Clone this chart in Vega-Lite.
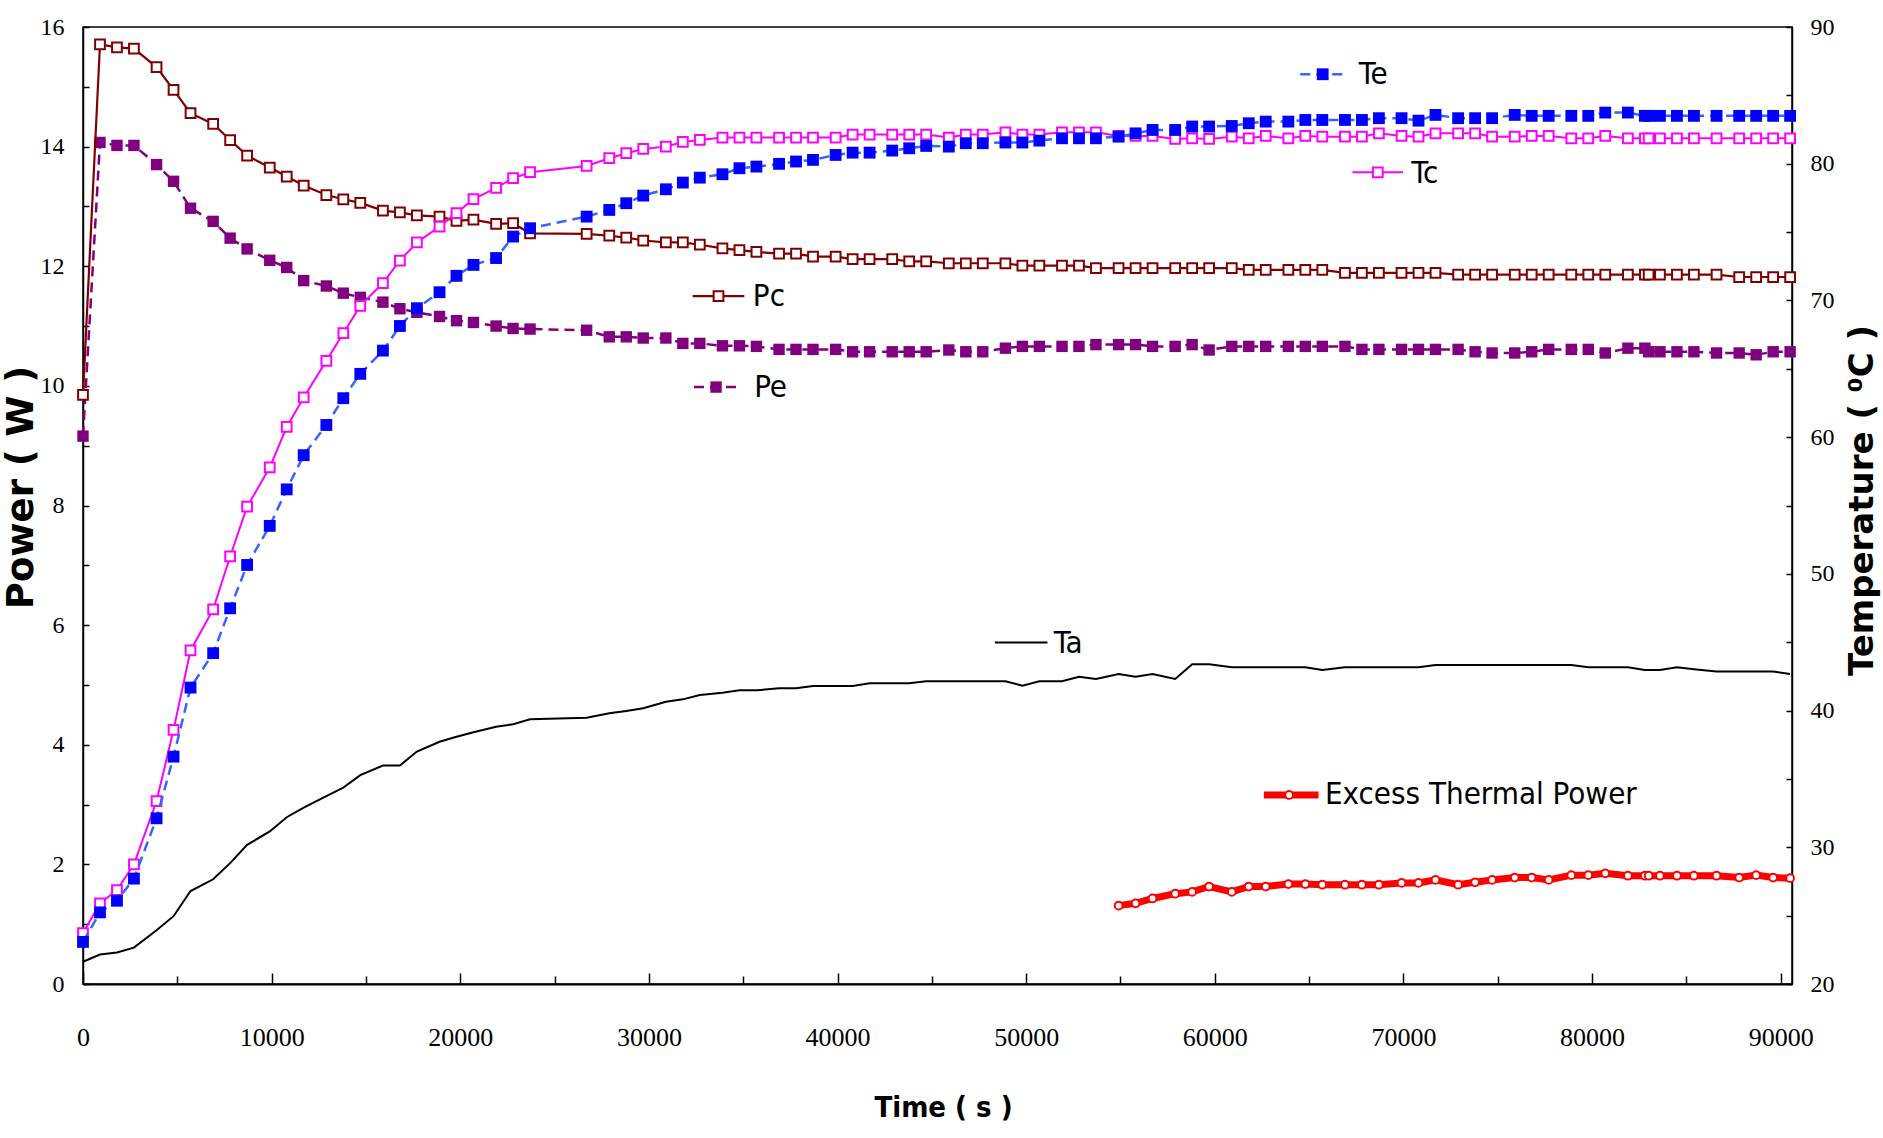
{
  "$schema": "https://vega.github.io/schema/vega-lite/v6.json",
  "width": 1709,
  "height": 957,
  "autosize": {"type": "none"},
  "padding": {"left": 83, "top": 27, "right": 91, "bottom": 154},
  "background": "white",
  "config": {
    "view": {"stroke": "black", "strokeWidth": 1.5},
    "axis": {
      "grid": false,
      "domainColor": "black",
      "domainWidth": 2,
      "tickColor": "black",
      "tickWidth": 1.5,
      "labelColor": "black",
      "titleColor": "black",
      "labelFont": "Liberation Serif",
      "labelFlush": false,
      "labelOverlap": false
    },
    "text": {"font": "Liberation Sans Narrow, DejaVu Sans Condensed, Roboto Condensed, Roboto, sans-serif", "fontSize": 31, "align": "left", "baseline": "middle", "color": "black"}
  },
  "datasets": {
    "runs": [
      {"t": 0, "Pc": 9.85, "Pe": 9.16, "Te": 23.08, "Tc": 23.73, "Ta": 21.63},
      {"t": 900, "Pc": 15.71, "Pe": 14.07, "Te": 25.24, "Tc": 25.89, "Ta": 22.16},
      {"t": 1800, "Pc": 15.66, "Pe": 14.02, "Te": 26.09, "Tc": 26.87, "Ta": 22.3},
      {"t": 2700, "Pc": 15.64, "Pe": 14.02, "Te": 27.71, "Tc": 28.75, "Ta": 22.66},
      {"t": 3900, "Pc": 15.33, "Pe": 13.7, "Te": 32.12, "Tc": 33.38, "Ta": 23.93},
      {"t": 4800, "Pc": 14.95, "Pe": 13.42, "Te": 36.63, "Tc": 38.59, "Ta": 24.96},
      {"t": 5700, "Pc": 14.56, "Pe": 12.97, "Te": 41.68, "Tc": 44.4, "Ta": 26.8},
      {"t": 6900, "Pc": 14.38, "Pe": 12.75, "Te": 44.2, "Tc": 47.4, "Ta": 27.66},
      {"t": 7800, "Pc": 14.11, "Pe": 12.47, "Te": 47.48, "Tc": 51.27, "Ta": 28.84},
      {"t": 8700, "Pc": 13.85, "Pe": 12.29, "Te": 50.65, "Tc": 54.92, "Ta": 30.18},
      {"t": 9900, "Pc": 13.65, "Pe": 12.1, "Te": 53.51, "Tc": 57.78, "Ta": 31.16},
      {"t": 10800, "Pc": 13.5, "Pe": 11.98, "Te": 56.18, "Tc": 60.75, "Ta": 32.2},
      {"t": 11700, "Pc": 13.35, "Pe": 11.76, "Te": 58.68, "Tc": 62.9, "Ta": 32.9},
      {"t": 12900, "Pc": 13.19, "Pe": 11.67, "Te": 60.89, "Tc": 65.58, "Ta": 33.74},
      {"t": 13800, "Pc": 13.12, "Pe": 11.55, "Te": 62.85, "Tc": 67.6, "Ta": 34.36},
      {"t": 14700, "Pc": 13.06, "Pe": 11.48, "Te": 64.63, "Tc": 69.6, "Ta": 35.28},
      {"t": 15900, "Pc": 12.93, "Pe": 11.4, "Te": 66.33, "Tc": 71.27, "Ta": 35.98},
      {"t": 16800, "Pc": 12.9, "Pe": 11.29, "Te": 68.13, "Tc": 72.92, "Ta": 35.98},
      {"t": 17700, "Pc": 12.85, "Pe": 11.23, "Te": 69.43, "Tc": 74.24, "Ta": 37.0},
      {"t": 18900, "Pc": 12.83, "Pe": 11.16, "Te": 70.6, "Tc": 75.4, "Ta": 37.72},
      {"t": 19800, "Pc": 12.76, "Pe": 11.09, "Te": 71.8, "Tc": 76.39, "Ta": 38.08},
      {"t": 20700, "Pc": 12.78, "Pe": 11.06, "Te": 72.6, "Tc": 77.41, "Ta": 38.42},
      {"t": 21900, "Pc": 12.71, "Pe": 11.0, "Te": 73.1, "Tc": 78.24, "Ta": 38.82},
      {"t": 22800, "Pc": 12.72, "Pe": 10.96, "Te": 74.67, "Tc": 78.94, "Ta": 39.0},
      {"t": 23700, "Pc": 12.55, "Pe": 10.95, "Te": 75.28, "Tc": 79.38, "Ta": 39.36},
      {"t": 26700, "Pc": 12.54, "Pe": 10.93, "Te": 76.13, "Tc": 79.84, "Ta": 39.48},
      {"t": 27900, "Pc": 12.51, "Pe": 10.82, "Te": 76.62, "Tc": 80.4, "Ta": 39.8},
      {"t": 28800, "Pc": 12.48, "Pe": 10.82, "Te": 77.11, "Tc": 80.77, "Ta": 39.97},
      {"t": 29700, "Pc": 12.43, "Pe": 10.8, "Te": 77.67, "Tc": 81.08, "Ta": 40.17},
      {"t": 30900, "Pc": 12.4, "Pe": 10.8, "Te": 78.13, "Tc": 81.25, "Ta": 40.65},
      {"t": 31800, "Pc": 12.4, "Pe": 10.71, "Te": 78.62, "Tc": 81.59, "Ta": 40.82},
      {"t": 32700, "Pc": 12.36, "Pe": 10.71, "Te": 78.98, "Tc": 81.74, "Ta": 41.14},
      {"t": 33900, "Pc": 12.3, "Pe": 10.67, "Te": 79.23, "Tc": 81.91, "Ta": 41.31},
      {"t": 34800, "Pc": 12.27, "Pe": 10.67, "Te": 79.67, "Tc": 81.91, "Ta": 41.48},
      {"t": 35700, "Pc": 12.24, "Pe": 10.66, "Te": 79.79, "Tc": 81.91, "Ta": 41.48},
      {"t": 36900, "Pc": 12.21, "Pe": 10.61, "Te": 79.99, "Tc": 81.91, "Ta": 41.63},
      {"t": 37800, "Pc": 12.21, "Pe": 10.61, "Te": 80.16, "Tc": 81.91, "Ta": 41.63},
      {"t": 38700, "Pc": 12.16, "Pe": 10.61, "Te": 80.28, "Tc": 81.91, "Ta": 41.8},
      {"t": 39900, "Pc": 12.16, "Pe": 10.61, "Te": 80.64, "Tc": 81.91, "Ta": 41.8},
      {"t": 40800, "Pc": 12.12, "Pe": 10.57, "Te": 80.81, "Tc": 82.13, "Ta": 41.8},
      {"t": 41700, "Pc": 12.12, "Pe": 10.57, "Te": 80.81, "Tc": 82.13, "Ta": 42.0},
      {"t": 42900, "Pc": 12.12, "Pe": 10.57, "Te": 80.96, "Tc": 82.13, "Ta": 42.0},
      {"t": 43800, "Pc": 12.08, "Pe": 10.57, "Te": 81.13, "Tc": 82.13, "Ta": 42.0},
      {"t": 44700, "Pc": 12.08, "Pe": 10.57, "Te": 81.3, "Tc": 82.13, "Ta": 42.14},
      {"t": 45900, "Pc": 12.05, "Pe": 10.6, "Te": 81.25, "Tc": 81.91, "Ta": 42.14},
      {"t": 46800, "Pc": 12.05, "Pe": 10.57, "Te": 81.5, "Tc": 82.13, "Ta": 42.14},
      {"t": 47700, "Pc": 12.05, "Pe": 10.57, "Te": 81.5, "Tc": 82.13, "Ta": 42.14},
      {"t": 48900, "Pc": 12.05, "Pe": 10.63, "Te": 81.55, "Tc": 82.3, "Ta": 42.14},
      {"t": 49800, "Pc": 12.01, "Pe": 10.66, "Te": 81.55, "Tc": 82.13, "Ta": 41.82},
      {"t": 50700, "Pc": 12.01, "Pe": 10.66, "Te": 81.69, "Tc": 82.13, "Ta": 42.14},
      {"t": 51900, "Pc": 12.01, "Pe": 10.66, "Te": 81.86, "Tc": 82.3, "Ta": 42.14},
      {"t": 52800, "Pc": 12.01, "Pe": 10.66, "Te": 81.86, "Tc": 82.3, "Ta": 42.48},
      {"t": 53700, "Pc": 11.97, "Pe": 10.69, "Te": 81.86, "Tc": 82.3, "Ta": 42.31},
      {"t": 54900, "Pc": 11.97, "Pe": 10.69, "Te": 81.98, "Tc": 82.03, "Ta": 42.68, "Ex": 1.31},
      {"t": 55800, "Pc": 11.97, "Pe": 10.69, "Te": 82.22, "Tc": 82.03, "Ta": 42.48, "Ex": 1.35},
      {"t": 56700, "Pc": 11.97, "Pe": 10.66, "Te": 82.47, "Tc": 82.03, "Ta": 42.68, "Ex": 1.43},
      {"t": 57900, "Pc": 11.97, "Pe": 10.66, "Te": 82.47, "Tc": 81.81, "Ta": 42.31, "Ex": 1.51},
      {"t": 58800, "Pc": 11.97, "Pe": 10.69, "Te": 82.72, "Tc": 81.86, "Ta": 43.39, "Ex": 1.54},
      {"t": 59700, "Pc": 11.97, "Pe": 10.6, "Te": 82.72, "Tc": 81.81, "Ta": 43.39, "Ex": 1.63},
      {"t": 60900, "Pc": 11.97, "Pe": 10.66, "Te": 82.76, "Tc": 81.98, "Ta": 43.17, "Ex": 1.54},
      {"t": 61800, "Pc": 11.94, "Pe": 10.66, "Te": 82.96, "Tc": 81.86, "Ta": 43.17, "Ex": 1.63},
      {"t": 62700, "Pc": 11.94, "Pe": 10.66, "Te": 83.08, "Tc": 82.03, "Ta": 43.17, "Ex": 1.63},
      {"t": 63900, "Pc": 11.94, "Pe": 10.66, "Te": 83.08, "Tc": 81.86, "Ta": 43.17, "Ex": 1.67},
      {"t": 64800, "Pc": 11.94, "Pe": 10.66, "Te": 83.2, "Tc": 82.03, "Ta": 43.17, "Ex": 1.67},
      {"t": 65700, "Pc": 11.94, "Pe": 10.66, "Te": 83.2, "Tc": 81.98, "Ta": 42.97, "Ex": 1.66},
      {"t": 66900, "Pc": 11.89, "Pe": 10.66, "Te": 83.2, "Tc": 81.98, "Ta": 43.17, "Ex": 1.66},
      {"t": 67800, "Pc": 11.89, "Pe": 10.61, "Te": 83.2, "Tc": 81.98, "Ta": 43.17, "Ex": 1.66},
      {"t": 68700, "Pc": 11.89, "Pe": 10.61, "Te": 83.33, "Tc": 82.22, "Ta": 43.17, "Ex": 1.66},
      {"t": 69900, "Pc": 11.89, "Pe": 10.61, "Te": 83.33, "Tc": 82.03, "Ta": 43.17, "Ex": 1.69},
      {"t": 70800, "Pc": 11.89, "Pe": 10.61, "Te": 83.15, "Tc": 81.98, "Ta": 43.17, "Ex": 1.69},
      {"t": 71700, "Pc": 11.89, "Pe": 10.61, "Te": 83.57, "Tc": 82.22, "Ta": 43.34, "Ex": 1.74},
      {"t": 72900, "Pc": 11.86, "Pe": 10.61, "Te": 83.33, "Tc": 82.22, "Ta": 43.34, "Ex": 1.66},
      {"t": 73800, "Pc": 11.86, "Pe": 10.57, "Te": 83.33, "Tc": 82.22, "Ta": 43.34, "Ex": 1.7},
      {"t": 74700, "Pc": 11.86, "Pe": 10.55, "Te": 83.33, "Tc": 81.98, "Ta": 43.34, "Ex": 1.74},
      {"t": 75900, "Pc": 11.86, "Pe": 10.55, "Te": 83.57, "Tc": 81.98, "Ta": 43.34, "Ex": 1.78},
      {"t": 76800, "Pc": 11.86, "Pe": 10.57, "Te": 83.5, "Tc": 82.03, "Ta": 43.34, "Ex": 1.78},
      {"t": 77700, "Pc": 11.86, "Pe": 10.61, "Te": 83.5, "Tc": 82.03, "Ta": 43.34, "Ex": 1.74},
      {"t": 78900, "Pc": 11.86, "Pe": 10.61, "Te": 83.5, "Tc": 81.86, "Ta": 43.34, "Ex": 1.82},
      {"t": 79800, "Pc": 11.86, "Pe": 10.61, "Te": 83.5, "Tc": 81.86, "Ta": 43.17, "Ex": 1.82},
      {"t": 80700, "Pc": 11.86, "Pe": 10.55, "Te": 83.74, "Tc": 82.03, "Ta": 43.17, "Ex": 1.85},
      {"t": 81900, "Pc": 11.86, "Pe": 10.63, "Te": 83.74, "Tc": 81.86, "Ta": 43.17, "Ex": 1.81},
      {"t": 82800, "Pc": 11.86, "Pe": 10.63, "Te": 83.5, "Tc": 81.86, "Ta": 42.97, "Ex": 1.81},
      {"t": 83000, "Pc": 11.86, "Pe": 10.57, "Te": 83.5, "Tc": 81.86, "Ta": 42.97, "Ex": 1.81},
      {"t": 83600, "Pc": 11.86, "Pe": 10.57, "Te": 83.5, "Tc": 81.86, "Ta": 42.97, "Ex": 1.81},
      {"t": 84500, "Pc": 11.86, "Pe": 10.57, "Te": 83.5, "Tc": 81.86, "Ta": 43.17, "Ex": 1.81},
      {"t": 85400, "Pc": 11.86, "Pe": 10.57, "Te": 83.5, "Tc": 81.86, "Ta": 43.02, "Ex": 1.81},
      {"t": 86600, "Pc": 11.86, "Pe": 10.55, "Te": 83.5, "Tc": 81.86, "Ta": 42.85, "Ex": 1.81},
      {"t": 87800, "Pc": 11.82, "Pe": 10.55, "Te": 83.5, "Tc": 81.86, "Ta": 42.85, "Ex": 1.78},
      {"t": 88700, "Pc": 11.82, "Pe": 10.52, "Te": 83.5, "Tc": 81.86, "Ta": 42.85, "Ex": 1.82},
      {"t": 89600, "Pc": 11.82, "Pe": 10.57, "Te": 83.5, "Tc": 81.86, "Ta": 42.85, "Ex": 1.78},
      {"t": 90500, "Pc": 11.82, "Pe": 10.57, "Te": 83.5, "Tc": 81.86, "Ta": 42.68, "Ex": 1.77}
    ]
  },
  "layer": [
    {
      "data": {"name": "runs"},
      "transform": [{"fold": ["Pc", "Pe", "Ex"], "as": ["s", "v"]}, {"filter": "isValid(datum.v)"}],
      "encoding": {
        "x": {
          "field": "t",
          "type": "quantitative",
          "scale": {"domain": [0, 90600], "nice": false, "zero": false},
          "axis": {
            "orient": "bottom",
            "values": [0, 5000, 10000, 15000, 20000, 25000, 30000, 35000, 40000, 45000, 50000, 55000, 60000, 65000, 70000, 75000, 80000, 85000, 90000],
            "format": "d",
            "labelExpr": "datum.value % 10000 === 0 ? datum.label : ''",
            "tickSize": {"condition": {"test": "datum.value % 10000 === 0", "value": -11}, "value": -8},
            "labelPadding": 51,
            "labelFontSize": 26,
            "title": "Time ( s )",
            "titleFont": "Liberation Sans Narrow, DejaVu Sans Condensed, Roboto Condensed, Roboto, sans-serif",
            "titleFontSize": 29,
            "titleFontWeight": "bold",
            "titleAlign": "center",
            "titleBaseline": "middle",
            "titleX": 860,
            "titleY": 123
          }
        },
        "y": {
          "field": "v",
          "type": "quantitative",
          "scale": {"domain": [0, 16], "nice": false, "zero": false},
          "axis": {
            "orient": "left",
            "values": [0, 1, 2, 3, 4, 5, 6, 7, 8, 9, 10, 11, 12, 13, 14, 15, 16],
            "labelExpr": "datum.value % 2 === 0 ? datum.label : ''",
            "tickSize": -6,
            "labelPadding": 25,
            "labelFontSize": 24,
            "domainWidth": 1.5,
            "title": "Power ( W )",
            "titleFont": "DejaVu Sans",
            "titleFontSize": 37,
            "titleFontWeight": "bold",
            "titleAngle": 270,
            "titleAlign": "center",
            "titleBaseline": "middle",
            "titleX": -62,
            "titleY": 460
          }
        }
      },
      "layer": [
        {
          "transform": [{"filter": "datum.s === 'Pe'"}],
          "mark": {"type": "line", "color": "#800080", "strokeWidth": 2.5, "strokeDash": [10, 6]},
          "encoding": {}
        },
        {
          "transform": [{"filter": "datum.s === 'Pe'"}],
          "mark": {"type": "point", "shape": "square", "filled": true, "color": "#800080", "size": 130, "opacity": 1}
        },
        {
          "transform": [{"filter": "datum.s === 'Pc'"}],
          "mark": {"type": "line", "color": "#800000", "strokeWidth": 2.2},
          "encoding": {}
        },
        {
          "transform": [{"filter": "datum.s === 'Pc'"}],
          "mark": {"type": "point", "shape": "square", "filled": true, "fill": "white", "stroke": "#800000", "strokeWidth": 2, "size": 95, "opacity": 1}
        },
        {
          "transform": [{"filter": "datum.s === 'Ex'"}],
          "mark": {"type": "line", "color": "#FF0000", "strokeWidth": 7},
          "encoding": {}
        },
        {
          "transform": [{"filter": "datum.s === 'Ex'"}],
          "mark": {"type": "point", "shape": "circle", "filled": true, "fill": "white", "stroke": "#FF0000", "strokeWidth": 2, "size": 60, "opacity": 1}
        }
      ]
    },
    {
      "data": {"name": "runs"},
      "transform": [{"fold": ["Ta", "Tc", "Te"], "as": ["s", "v"]}],
      "encoding": {
        "x": {"field": "t", "type": "quantitative", "scale": {"domain": [0, 90600], "nice": false, "zero": false}},
        "y": {
          "field": "v",
          "type": "quantitative",
          "scale": {"domain": [20, 90], "nice": false, "zero": false},
          "axis": {
            "orient": "right",
            "values": [20, 25, 30, 35, 40, 45, 50, 55, 60, 65, 70, 75, 80, 85, 90],
            "labelExpr": "datum.value % 10 === 0 ? datum.label : ''",
            "tickSize": -6,
            "labelPadding": 24,
            "labelFontSize": 24,
            "domainWidth": 1.5,
            "title": "Temperature ( ⁰C )",
            "titleFont": "DejaVu Sans",
            "titleFontSize": 34,
            "titleFontWeight": "bold",
            "titleAngle": 270,
            "titleAlign": "center",
            "titleBaseline": "middle",
            "titleX": 70,
            "titleY": 473
          }
        }
      },
      "layer": [
        {
          "transform": [{"filter": "datum.s === 'Ta'"}],
          "mark": {"type": "line", "color": "black", "strokeWidth": 2},
          "encoding": {}
        },
        {
          "transform": [{"filter": "datum.s === 'Tc'"}],
          "mark": {"type": "line", "color": "#FF00FF", "strokeWidth": 2},
          "encoding": {}
        },
        {
          "transform": [{"filter": "datum.s === 'Tc'"}],
          "mark": {"type": "point", "shape": "square", "filled": true, "fill": "white", "stroke": "#FF00FF", "strokeWidth": 2, "size": 95, "opacity": 1}
        },
        {
          "transform": [{"filter": "datum.s === 'Te'"}],
          "mark": {"type": "line", "color": "#3366FF", "strokeWidth": 2.5, "strokeDash": [10, 6]},
          "encoding": {}
        },
        {
          "transform": [{"filter": "datum.s === 'Te'"}],
          "mark": {"type": "point", "shape": "square", "filled": true, "color": "#0000FF", "size": 140, "opacity": 1}
        }
      ]
    },
    {
      "data": {"values": [{"label": "Pc"}]},
      "layer": [
        {
          "mark": {"type": "rule", "color": "#800000", "strokeWidth": 2.2},
          "encoding": {"x": {"datum": 32320}, "x2": {"datum": 35060}, "y": {"datum": 11.5, "scale": {"domain": [0, 16], "nice": false, "zero": false}, "axis": null}}
        },
        {
          "mark": {"type": "point", "shape": "square", "filled": true, "fill": "white", "stroke": "#800000", "strokeWidth": 2, "size": 95, "opacity": 1},
          "encoding": {"x": {"datum": 33690}, "y": {"datum": 11.5}}
        },
        {
          "mark": {"type": "text"},
          "encoding": {"x": {"datum": 35510}, "y": {"datum": 11.49}, "text": {"field": "label"}}
        },
        {
          "data": {"values": [{"label": "Pe"}]},
          "mark": {"type": "rule", "color": "#800080", "strokeWidth": 2.5, "strokeDash": [10, 6]},
          "encoding": {"x": {"datum": 32390}, "x2": {"datum": 34730}, "y": {"datum": 9.98}}
        },
        {
          "data": {"values": [{"label": "Pe"}]},
          "mark": {"type": "point", "shape": "square", "filled": true, "color": "#800080", "size": 130, "opacity": 1},
          "encoding": {"x": {"datum": 33560}, "y": {"datum": 9.98}}
        },
        {
          "data": {"values": [{"label": "Pe"}]},
          "mark": {"type": "text"},
          "encoding": {"x": {"datum": 35580}, "y": {"datum": 9.96}, "text": {"field": "label"}}
        },
        {
          "data": {"values": [{"label": "Te"}]},
          "mark": {"type": "rule", "color": "#3366FF", "strokeWidth": 2.5, "strokeDash": [10, 6]},
          "encoding": {"x": {"datum": 64530}, "x2": {"datum": 66880}, "y": {"datum": 15.21}}
        },
        {
          "data": {"values": [{"label": "Te"}]},
          "mark": {"type": "point", "shape": "square", "filled": true, "color": "#0000FF", "size": 140, "opacity": 1},
          "encoding": {"x": {"datum": 65720}, "y": {"datum": 15.21}}
        },
        {
          "data": {"values": [{"label": "Te"}]},
          "mark": {"type": "text"},
          "encoding": {"x": {"datum": 67630}, "y": {"datum": 15.19}, "text": {"field": "label"}}
        },
        {
          "data": {"values": [{"label": "Tc"}]},
          "mark": {"type": "rule", "color": "#FF00FF", "strokeWidth": 2},
          "encoding": {"x": {"datum": 67300}, "x2": {"datum": 69980}, "y": {"datum": 13.57}}
        },
        {
          "data": {"values": [{"label": "Tc"}]},
          "mark": {"type": "point", "shape": "square", "filled": true, "fill": "white", "stroke": "#FF00FF", "strokeWidth": 2, "size": 95, "opacity": 1},
          "encoding": {"x": {"datum": 68640}, "y": {"datum": 13.57}}
        },
        {
          "data": {"values": [{"label": "Tc"}]},
          "mark": {"type": "text"},
          "encoding": {"x": {"datum": 70410}, "y": {"datum": 13.55}, "text": {"field": "label"}}
        },
        {
          "data": {"values": [{"label": "Ta"}]},
          "mark": {"type": "rule", "color": "black", "strokeWidth": 2},
          "encoding": {"x": {"datum": 48340}, "x2": {"datum": 51130}, "y": {"datum": 5.71}}
        },
        {
          "data": {"values": [{"label": "Ta"}]},
          "mark": {"type": "text"},
          "encoding": {"x": {"datum": 51460}, "y": {"datum": 5.69}, "text": {"field": "label"}}
        },
        {
          "data": {"values": [{"label": "Excess Thermal Power"}]},
          "mark": {"type": "rule", "color": "#FF0000", "strokeWidth": 7},
          "encoding": {"x": {"datum": 62600}, "x2": {"datum": 65500}, "y": {"datum": 3.16}}
        },
        {
          "data": {"values": [{"label": "Excess Thermal Power"}]},
          "mark": {"type": "point", "shape": "circle", "filled": true, "fill": "white", "stroke": "#FF0000", "strokeWidth": 2, "size": 60, "opacity": 1},
          "encoding": {"x": {"datum": 63940}, "y": {"datum": 3.16}}
        },
        {
          "data": {"values": [{"label": "Excess Thermal Power"}]},
          "mark": {"type": "text"},
          "encoding": {"x": {"datum": 65840}, "y": {"datum": 3.16}, "text": {"field": "label"}}
        }
      ]
    }
  ],
  "resolve": {"scale": {"y": "independent"}}
}
